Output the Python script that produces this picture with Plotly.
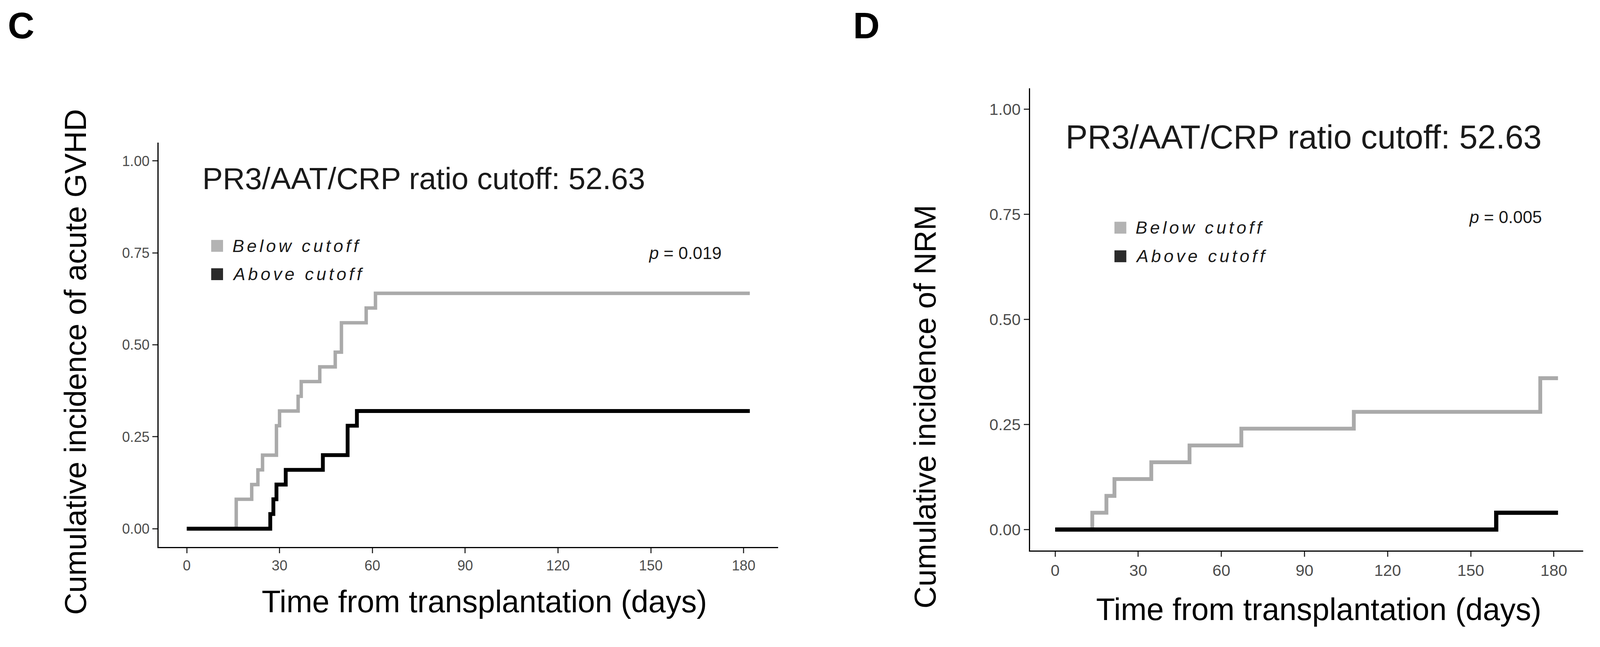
"""
Cumulative incidence of acute GVHD (C) and NRM (D) by PR3/AAT/CRP ratio cutoff.
"""

import plotly.graph_objects as go

# ---- data ----
gvhd_below_days = [0, 16, 21, 23, 24.5, 29, 30, 36, 37, 43, 48, 50, 58, 61, 182]
gvhd_below_ci = [0, 0.08, 0.12, 0.16, 0.20, 0.28, 0.32, 0.36, 0.40, 0.44, 0.48, 0.56, 0.60, 0.64, 0.64]
gvhd_above_days = [0, 27, 28, 29, 32, 44, 52, 55, 182]
gvhd_above_ci = [0, 0.04, 0.08, 0.12, 0.16, 0.20, 0.28, 0.32, 0.32]

nrm_below_days = [0, 13.4, 18.5, 21.4, 34.7, 48.5, 67.2, 107.8, 175.1, 181.5]
nrm_below_ci = [0, 0.04, 0.08, 0.12, 0.16, 0.20, 0.24, 0.28, 0.36, 0.36]
nrm_above_days = [0, 159.2, 181.5]
nrm_above_ci = [0, 0.04, 0.04]

x_ticks = [0, 30, 60, 90, 120, 150, 180]
y_ticks = [0, 0.25, 0.50, 0.75, 1.00]
group_labels = ["Below cutoff", "Above cutoff"]
cutoff_text = "PR3/AAT/CRP ratio cutoff: 52.63"
p_values = ["0.019", "0.005"]

FONT = "Liberation Sans, Arial, sans-serif"
GREY_LINE = "#AAAAAA"
GREY_KEY = "#B3B3B3"
DARK_KEY = "#2B2B2B"

# the page is laid out in a 4096 px wide view and stretched to 4177 px,
# so every size is given in picture pixels and scaled down here
REF_W, REF_H = 4177, 1656
W, H = 4096, 1624
S = W / REF_W
BODY = 8  # default page margin


def px(x_ref):
    return (x_ref * S - BODY) / W


def py(y_ref):
    return 1 - (y_ref * S - BODY) / H


def sz(v):
    return v * S


fig = go.Figure()

fig.add_trace(go.Scatter(x=gvhd_below_days, y=gvhd_below_ci, mode="lines", line_shape="hv",
                         line=dict(color=GREY_LINE, width=sz(9)), xaxis="x", yaxis="y"))
fig.add_trace(go.Scatter(x=gvhd_above_days, y=gvhd_above_ci, mode="lines", line_shape="hv",
                         line=dict(color="#000000", width=sz(10)), xaxis="x", yaxis="y"))
fig.add_trace(go.Scatter(x=nrm_below_days, y=nrm_below_ci, mode="lines", line_shape="hv",
                         line=dict(color=GREY_LINE, width=sz(10)), xaxis="x2", yaxis="y2"))
fig.add_trace(go.Scatter(x=nrm_above_days, y=nrm_above_ci, mode="lines", line_shape="hv",
                         line=dict(color="#000000", width=sz(11)), xaxis="x2", yaxis="y2"))


def axis_style(tick_size, **extra):
    style = dict(
        showline=True, linecolor="#000000", linewidth=sz(3), mirror=False,
        showgrid=False, zeroline=False,
        ticks="outside", ticklen=sz(13), tickwidth=sz(3), tickcolor="#333333",
        tickfont=dict(family=FONT, size=sz(tick_size), color="#4D4D4D"),
    )
    style.update(extra)
    return style


fig.update_layout(
    width=W, height=H,
    margin=dict(l=0, r=0, t=0, b=0),
    paper_bgcolor="white", plot_bgcolor="white",
    showlegend=False,
    xaxis=axis_style(37, domain=[px(414), px(2031)], range=[-9.1, 191.1], tickvals=x_ticks, anchor="y"),
    yaxis=axis_style(37, domain=[py(1428), py(372)], range=[-0.05, 1.05], tickvals=y_ticks,
                     tickformat=".2f", anchor="x"),
    xaxis2=axis_style(42, domain=[px(2689), px(4133)], range=[-9.075, 190.575], tickvals=x_ticks,
                      anchor="y2"),
    yaxis2=axis_style(42, domain=[py(1437), py(230)], range=[-0.05, 1.05], tickvals=y_ticks,
                      tickformat=".2f", anchor="x2"),
)

annotations = []
shapes = []


def paper_text(text, x_ref, y_ref, size, angle=0):
    return dict(text=text, xref="paper", yref="paper", x=px(x_ref), y=py(y_ref),
                xanchor="center", yanchor="middle", textangle=angle, showarrow=False,
                font=dict(family=FONT, size=sz(size), color="#000000"))


# panel letters
annotations.append(paper_text("<b>C</b>", 55, 67, 96))
annotations.append(paper_text("<b>D</b>", 2262, 67, 96))

# axis titles
annotations.append(paper_text("Cumulative incidence of acute GVHD", 196, 945, 80, -90))
annotations.append(paper_text("Cumulative incidence of NRM", 2415, 1062, 80, -90))
annotations.append(paper_text("Time from transplantation (days)", 1265, 1570, 81))
annotations.append(paper_text("Time from transplantation (days)", 3443, 1590, 81))

# in-panel texts and keys (positions in each panel's data units)
panels = [
    # xref, yref, title x, title y, title size, key x, text x, row ys, p x, p y, p size, p value
    ("x", "y", 4.8, 0.952, 80, 7.9, 14.5, [0.769, 0.692], 161, 0.75, 45, p_values[0]),
    ("x2", "y2", 3.5, 0.933, 86, 21.4, 28.8, [0.718, 0.650], 162.5, 0.743, 45, p_values[1]),
]
half_key = sz(31) / 2
for xr, yr, tx, ty, tsize, kx, lx, rows, p_x, p_y, psize, pval in panels:
    annotations.append(dict(text=cutoff_text, xref=xr, yref=yr, x=tx, y=ty, xanchor="left",
                            yanchor="middle", showarrow=False,
                            font=dict(family=FONT, size=sz(tsize), color="#1A1A1A")))
    for label, ry, colour in zip(group_labels, rows, [GREY_KEY, DARK_KEY]):
        shapes.append(dict(type="rect", xref=xr, yref=yr, xsizemode="pixel", ysizemode="pixel",
                           xanchor=kx, yanchor=ry, x0=0, x1=2 * half_key, y0=-half_key, y1=half_key,
                           fillcolor=colour, line=dict(width=0)))
        annotations.append(dict(text='<i><span style="letter-spacing:7px">%s</span></i>' % label,
                                xref=xr, yref=yr, x=lx, y=ry, xanchor="left", yanchor="middle",
                                showarrow=False,
                                font=dict(family=FONT, size=sz(46), color="#1A1A1A")))
    annotations.append(dict(text="<i>p</i> = %s" % pval, xref=xr, yref=yr, x=p_x, y=p_y,
                            xanchor="center", yanchor="middle", showarrow=False,
                            font=dict(family=FONT, size=sz(psize), color="#1A1A1A")))

fig.update_layout(annotations=annotations, shapes=shapes)

fig.write_html("out.html")
